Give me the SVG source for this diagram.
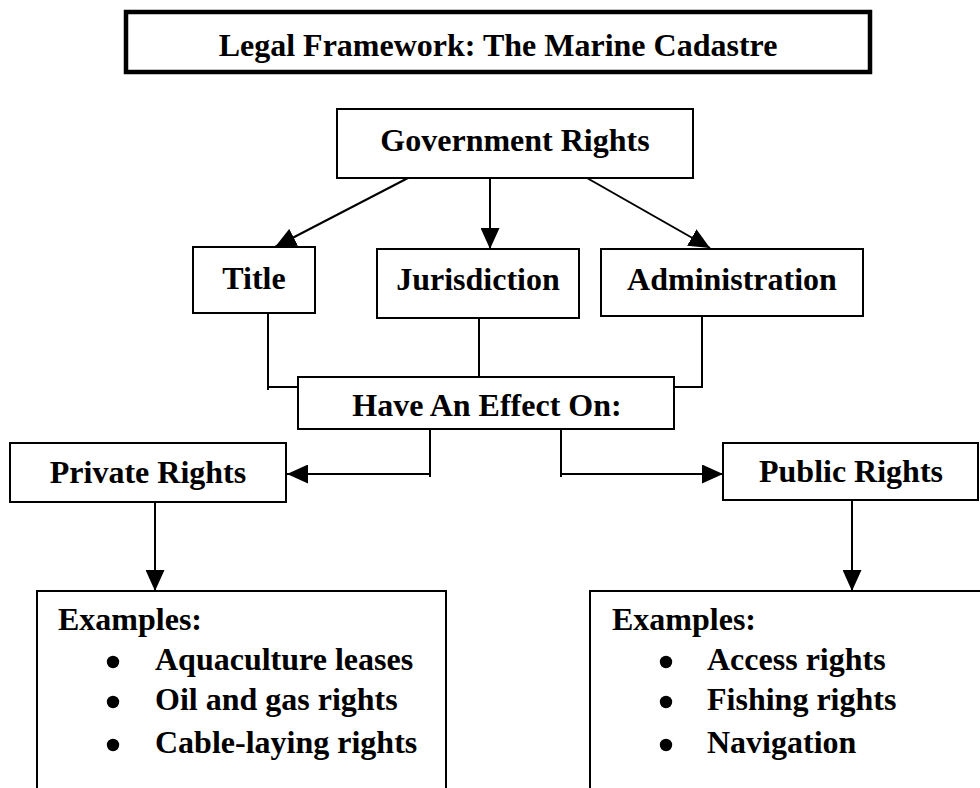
<svg xmlns="http://www.w3.org/2000/svg" width="980" height="788" viewBox="0 0 980 788">
  <defs>
    <style>
      .box { fill: #ffffff; stroke: #000000; stroke-width: 2; }
      .heading { fill: #ffffff; stroke: #000000; stroke-width: 4.5; }
      .label { font-family: "Liberation Serif", "Times New Roman", serif; font-weight: bold; font-size: 32px; fill: #000000; }
      .mid { text-anchor: middle; }
      .wire { fill: none; stroke: #000000; stroke-width: 2; }
      .arrow { fill: none; stroke: #000000; stroke-width: 2; marker-end: url(#head); }
      .dot { fill: #000000; }
    </style>
    <marker id="head" viewBox="0 0 21 19" refX="21" refY="9.5" markerWidth="21" markerHeight="19" markerUnits="userSpaceOnUse" orient="auto">
      <path d="M0,0 L21,9.5 L0,19 Z" fill="#000000"/>
    </marker>
  </defs>

  <rect width="980" height="788" fill="#ffffff"/>

  <!-- heading banner -->
  <g id="heading">
    <rect class="heading" x="126" y="12" width="744" height="60"/>
    <text class="label mid" x="498" y="56">Legal Framework: The Marine Cadastre</text>
  </g>

  <!-- connectors -->
  <g id="connectors">
    <line class="arrow" x1="408" y1="178" x2="275" y2="247"/>
    <line class="arrow" x1="490" y1="178" x2="490" y2="249"/>
    <line class="arrow" x1="587" y1="178" x2="710" y2="248"/>
    <line class="wire" x1="268" y1="313" x2="268" y2="390"/>
    <line class="wire" x1="268" y1="387" x2="298" y2="387"/>
    <line class="wire" x1="479" y1="318" x2="479" y2="377"/>
    <line class="wire" x1="702" y1="316" x2="702" y2="388"/>
    <line class="wire" x1="674" y1="387" x2="702" y2="387"/>
    <line class="wire" x1="430" y1="429" x2="430" y2="477"/>
    <line class="arrow" x1="430" y1="474" x2="287" y2="474"/>
    <line class="wire" x1="561" y1="429" x2="561" y2="477"/>
    <line class="arrow" x1="561" y1="474" x2="723" y2="474"/>
    <line class="arrow" x1="155" y1="502" x2="155" y2="591"/>
    <line class="arrow" x1="852" y1="500" x2="852" y2="591"/>
  </g>

  <g id="government-rights">
    <rect class="box" x="337" y="109" width="356" height="69"/>
    <text class="label mid" x="515" y="151">Government Rights</text>
  </g>

  <g id="title">
    <rect class="box" x="193" y="247" width="122" height="66"/>
    <text class="label mid" x="254" y="289">Title</text>
  </g>

  <g id="jurisdiction">
    <rect class="box" x="377" y="249" width="202" height="69"/>
    <text class="label mid" x="478" y="290">Jurisdiction</text>
  </g>

  <g id="administration">
    <rect class="box" x="601" y="249" width="262" height="67"/>
    <text class="label mid" x="732" y="290">Administration</text>
  </g>

  <g id="effect">
    <rect class="box" x="298" y="377" width="376" height="52"/>
    <text class="label mid" x="487" y="416">Have An Effect On:</text>
  </g>

  <g id="private-rights">
    <rect class="box" x="10" y="443" width="276" height="59"/>
    <text class="label mid" x="148" y="483">Private Rights</text>
  </g>

  <g id="public-rights">
    <rect class="box" x="723" y="443" width="255" height="57"/>
    <text class="label mid" x="851" y="482">Public Rights</text>
  </g>

  <g id="private-examples">
    <rect class="box" x="37" y="591" width="409" height="220"/>
    <text class="label" x="58" y="630">Examples:</text>
    <circle class="dot" cx="113" cy="662" r="6.2"/>
    <circle class="dot" cx="113" cy="702" r="6.2"/>
    <circle class="dot" cx="113" cy="745" r="6.2"/>
    <text class="label" x="155" y="670">Aquaculture leases</text>
    <text class="label" x="155" y="710">Oil and gas rights</text>
    <text class="label" x="155" y="753">Cable-laying rights</text>
  </g>

  <g id="public-examples">
    <rect class="box" x="590" y="591" width="420" height="220"/>
    <text class="label" x="612" y="630">Examples:</text>
    <circle class="dot" cx="666" cy="662" r="6.2"/>
    <circle class="dot" cx="666" cy="702" r="6.2"/>
    <circle class="dot" cx="666" cy="745" r="6.2"/>
    <text class="label" x="707" y="670">Access rights</text>
    <text class="label" x="707" y="710">Fishing rights</text>
    <text class="label" x="707" y="753">Navigation</text>
  </g>
</svg>
